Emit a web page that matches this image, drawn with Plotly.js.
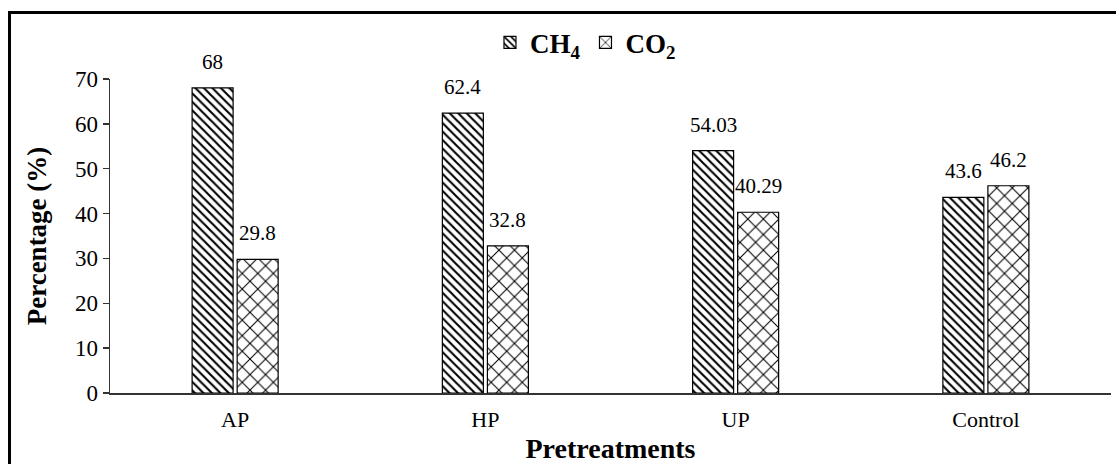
<!DOCTYPE html>
<html>
<head>
<meta charset="utf-8">
<script src="https://cdn.plot.ly/plotly-3.0.1.min.js"></script>
<style>
  html, body { margin: 0; padding: 0; background: #fff; }
  #wrap { position: relative; width: 1116px; height: 464px; overflow: hidden; }
  #chart { position: absolute; left: 0; top: 0; width: 1116px; height: 464px; }
  #frame { position: absolute; left: 8px; top: 11px; width: 1120px; height: 470px;
           border-left: 3px solid #000; border-top: 3px solid #000; pointer-events: none; }
</style>
</head>
<body>
<div id="wrap">
  <div id="chart"></div>
  <div id="frame"></div>
</div>
<script>
// Biogas composition by pretreatment
const pretreatments = ["AP", "HP", "UP", "Control"];
const ch4 = [68, 62.4, 54.03, 43.6];
const co2 = [29.8, 32.8, 40.29, 46.2];
const ch4Labels = ["68", "62.4", "54.03", "43.6"];
const co2Labels = ["29.8", "32.8", "40.29", "46.2"];

const serif = "'Liberation Serif', 'Times New Roman', serif";

const traces = [
  {
    type: "bar", name: "CH<sub>4</sub>", x: pretreatments, y: ch4,
    marker: {
      color: "#fff",
      line: { color: "#000", width: 1.2 },
      pattern: { shape: "\\", fgcolor: "#000", bgcolor: "#fff", size: 6, solidity: 0.35 }
    },
    hoverinfo: "x+y"
  },
  {
    type: "bar", name: "CO<sub>2</sub>", x: pretreatments, y: co2,
    marker: {
      color: "#fff",
      line: { color: "#000", width: 1.2 },
      pattern: { shape: "x", fgcolor: "#000", bgcolor: "#fff", size: 11, solidity: 0.18 }
    },
    hoverinfo: "x+y"
  }
];

// value labels above each bar
const labelFont = { family: serif, size: 21, color: "#000" };
const annotations = [];
pretreatments.forEach((p, i) => {
  annotations.push({ x: p, y: ch4[i], text: ch4Labels[i], showarrow: false,
    xshift: -22.5, yshift: 12, yanchor: "bottom", font: labelFont });
  annotations.push({ x: p, y: co2[i], text: co2Labels[i], showarrow: false,
    xshift: 22.5, yshift: 12, yanchor: "bottom", font: labelFont });
});

const layout = {
  width: 1116, height: 464,
  margin: { l: 110, r: 5, t: 79, b: 71, pad: 0 },
  paper_bgcolor: "rgba(0,0,0,0)", plot_bgcolor: "#fff",
  barmode: "group", bargap: 0.64, bargroupgap: 0.09,
  font: { family: serif, color: "#000", size: 21 },
  showlegend: true,
  legend: {
    orientation: "h", x: 0.475, xanchor: "center", y: 1.115, yanchor: "middle",
    font: { family: serif, size: 27, color: "#000", weight: "bold" },
    itemwidth: 30, bgcolor: "rgba(0,0,0,0)"
  },
  xaxis: {
    type: "category", showline: true, linecolor: "#333", linewidth: 1.5,
    ticks: "", showgrid: false, zeroline: false, ticklabelstandoff: 6,
    tickfont: { family: serif, size: 22, color: "#000" },
    title: { text: "Pretreatments", standoff: 10,
      font: { family: serif, size: 28, color: "#000", weight: "bold" } }
  },
  yaxis: {
    range: [0, 70], dtick: 10, showline: true, linecolor: "#333", linewidth: 1.5,
    ticks: "outside", ticklen: 6, tickcolor: "#333", tickwidth: 1.5,
    showgrid: false, zeroline: false,
    tickfont: { family: serif, size: 23, color: "#000" },
    title: { text: "Percentage (%)", standoff: 20,
      font: { family: serif, size: 27, color: "#000", weight: "bold" } }
  },
  annotations: annotations
};

Plotly.newPlot("chart", traces, layout, { displayModeBar: false, staticPlot: true });
</script>
</body>
</html>
